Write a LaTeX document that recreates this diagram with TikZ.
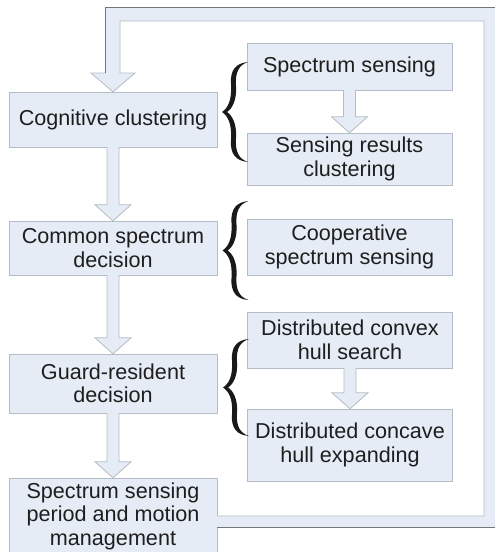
\documentclass[tikz,border=0pt]{standalone}
\usepackage{fontspec}
\setmainfont{Liberation Sans}
\usetikzlibrary{calc}
\definecolor{boxfill}{RGB}{230,236,246}
\definecolor{boxline}{RGB}{180,188,198}
\definecolor{edgeline}{RGB}{118,118,118}
\definecolor{textcol}{RGB}{30,30,30}

\begin{document}
\begin{tikzpicture}[x=1pt,y=-1pt,
  stepbox/.style={draw=boxline,fill=boxfill,align=center,inner sep=0pt,text=textcol,font=\fontsize{21.6}{23.5}\selectfont},
  band/.style={draw=boxline,fill=boxfill,line width=0.8pt},
  curly/.pic={\fill[black!90] (26,0) .. controls (14,1) and (8,8) .. (9,22) .. controls (10,38) and (6,46) .. (0,50)
    .. controls (6,54) and (10,62) .. (9,78) .. controls (8,92) and (14,99) .. (26,100)
    .. controls (17,97) and (13,90) .. (14,76) .. controls (15,62) and (10,53) .. (5,50)
    .. controls (10,47) and (15,38) .. (14,24) .. controls (13,10) and (17,3) .. (26,0) -- cycle;}]
\clip (0,0) rectangle (495,552);
\fill[white] (0,0) rectangle (495,552);
% left column
\node[stepbox,minimum width=208,minimum height=55] (cc) at (113,119.5) {Cognitive clustering};
\node[stepbox,minimum width=208,minimum height=54] (csd) at (113,248) {Common spectrum\\decision};
\node[stepbox,minimum width=208,minimum height=59] (grd) at (113,383.5) {Guard-resident\\decision};
\node[stepbox,minimum width=208,minimum height=76] (ssp) at (113,516) {Spectrum sensing\\period and motion\\management};
% right column
\node[stepbox,minimum width=205,minimum height=47] (ss) at (349.5,66.5) {Spectrum sensing};
\node[stepbox,minimum width=205,minimum height=52] (src) at (349.5,159) {Sensing results\\clustering};
\node[stepbox,minimum width=205,minimum height=56] (css) at (349.5,247) {Cooperative\\spectrum sensing};
\node[stepbox,minimum width=205,minimum height=56] (dchs) at (350,340) {Distributed convex\\hull search};
\node[stepbox,minimum width=205,minimum height=72] (dche) at (350,445) {Distributed concave\\hull expanding};
% braces
\pic (br1) at (222,62) {curly};
\pic[yscale=0.99] (br2) at (222.5,201) {curly};
\pic[yscale=0.97] (br3) at (223,339) {curly};
% block arrows
\foreach \a/\b in {cc/csd,csd/grd,grd/ssp,ss/src,dchs/dche}
  \draw[band] ($(\a.south)+(-6,0)$) -- ($(\b.north)+(-6,-16)$) -- ($(\b.north)+(-18,-16)$) -- (\b.north)
    -- ($(\b.north)+(18,-16)$) -- ($(\b.north)+(6,-16)$) -- ($(\a.south)+(6,0)$);
% feedback loop
\fill[boxfill] (ssp.east) -- (484,516) -- (484,21) -- (120,21) -- (120,73) -- (135,73) -- (cc.north)
  -- (91,73) -- (105,73) -- (105,7) -- (497,7) -- (497,527) -- ($(ssp.east)+(0,11)$) -- cycle;
\draw[boxline,line width=0.8pt] (ssp.east) -- (484,516) -- (484,21) -- (120,21) -- (120,73) -- (135,73) -- (cc.north) -- (91,73) -- (105,73);
\draw[edgeline,line width=0.9pt] ($(ssp.east)+(0,11)$) -- (497,527) -- (497,7) -- (105,7) -- (105,73);
\end{tikzpicture}
\end{document}
